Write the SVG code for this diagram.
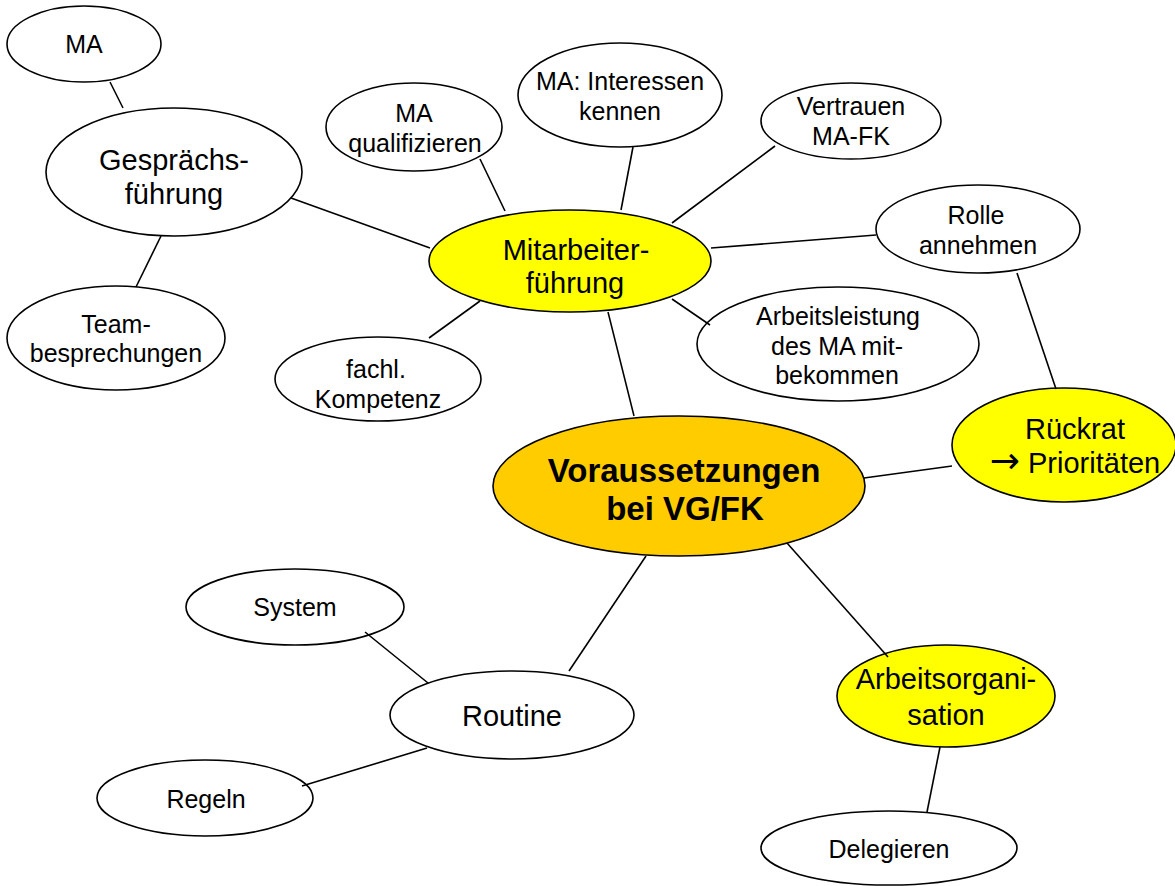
<svg xmlns="http://www.w3.org/2000/svg" width="1175" height="886" viewBox="0 0 1175 886">
<style>
  .n { fill: #FFFFFF; stroke: #000000; stroke-width: 1.6; }
  .y { fill: #FFFF00; stroke: #000000; stroke-width: 1.6; }
  .o { fill: #FFCC00; stroke: #000000; stroke-width: 1.6; }
  .c line { stroke: #000000; stroke-width: 1.6; }
  text { font-family: "Liberation Sans", Arial, Helvetica, sans-serif; fill: #000000; text-anchor: middle; }
  .s { font-size: 25px; }
  .l { font-size: 29px; }
  .b { font-size: 33px; font-weight: bold; }
  .arr { font-family: "DejaVu Sans", sans-serif; font-size: 36px; }
</style>
<rect x="0" y="0" width="1175" height="886" fill="#FFFFFF"/>

<g id="node-ma-top">
  <ellipse class="n" cx="84" cy="44" rx="77" ry="38"/>
  <text class="s" x="84" y="53">MA</text>
</g>
<g id="node-gespraechsfuehrung">
  <ellipse class="n" cx="174" cy="172" rx="128" ry="64"/>
  <text class="l" x="174" y="170">Gesprächs-</text>
  <text class="l" x="174" y="204">führung</text>
</g>
<g id="node-teambesprechungen">
  <ellipse class="n" cx="116" cy="338" rx="109" ry="52"/>
  <text class="s" x="116" y="333">Team-</text>
  <text class="s" x="116" y="362">besprechungen</text>
</g>
<g id="node-ma-qualifizieren">
  <ellipse class="n" cx="414" cy="127" rx="88" ry="44"/>
  <text class="s" x="414" y="122">MA</text>
  <text class="s" x="415" y="152">qualifizieren</text>
</g>
<g id="node-ma-interessen">
  <ellipse class="n" cx="620" cy="95" rx="102" ry="52"/>
  <text class="s" x="620" y="90">MA: Interessen</text>
  <text class="s" x="620" y="120">kennen</text>
</g>
<g id="node-vertrauen">
  <ellipse class="n" cx="851" cy="121" rx="90" ry="38"/>
  <text class="s" x="851" y="115">Vertrauen</text>
  <text class="s" x="851" y="145">MA-FK</text>
</g>
<g id="node-rolle">
  <ellipse class="n" cx="978" cy="229" rx="102" ry="44"/>
  <text class="s" x="976" y="224">Rolle</text>
  <text class="s" x="978" y="254">annehmen</text>
</g>
<g id="node-mitarbeiterfuehrung">
  <ellipse class="y" cx="570" cy="261" rx="141" ry="51"/>
  <text class="l" x="576" y="260">Mitarbeiter-</text>
  <text class="l" x="575" y="293">führung</text>
</g>
<g id="node-arbeitsleistung">
  <ellipse class="n" cx="838" cy="344" rx="141" ry="57"/>
  <text class="s" x="838" y="325">Arbeitsleistung</text>
  <text class="s" x="837" y="355">des MA mit-</text>
  <text class="s" x="837" y="384">bekommen</text>
</g>
<g id="node-fachl-kompetenz">
  <ellipse class="n" cx="378" cy="379" rx="103" ry="42"/>
  <text class="s" x="376" y="378">fachl.</text>
  <text class="s" x="378" y="408">Kompetenz</text>
</g>
<g id="node-voraussetzungen">
  <ellipse class="o" cx="679" cy="486" rx="186" ry="70"/>
  <text class="b" x="684" y="482">Voraussetzungen</text>
  <text class="b" x="685" y="520">bei VG/FK</text>
</g>
<g id="node-rueckrat">
  <ellipse class="y" cx="1064" cy="445" rx="112" ry="57"/>
  <text class="l" x="1075" y="439">Rückrat</text>
  <text class="l" x="1075" y="473"><tspan class="arr">→</tspan> Prioritäten</text>
</g>
<g id="node-system">
  <ellipse class="n" cx="295" cy="607" rx="109" ry="38"/>
  <text class="s" x="295" y="616">System</text>
</g>
<g id="node-routine">
  <ellipse class="n" cx="512" cy="715" rx="122" ry="44"/>
  <text class="l" x="512" y="726">Routine</text>
</g>
<g id="node-regeln">
  <ellipse class="n" cx="205" cy="798" rx="108" ry="38"/>
  <text class="s" x="206" y="808">Regeln</text>
</g>
<g id="node-arbeitsorganisation">
  <ellipse class="y" cx="946" cy="696" rx="109" ry="51"/>
  <text class="l" x="946" y="689">Arbeitsorgani-</text>
  <text class="l" x="946" y="725">sation</text>
</g>
<g id="node-delegieren">
  <ellipse class="n" cx="889" cy="848" rx="128" ry="37"/>
  <text class="s" x="889" y="858">Delegieren</text>
</g>

<g id="connectors" class="c">
  <line x1="110" y1="82" x2="123" y2="108"/>
  <line x1="161" y1="236" x2="136" y2="287"/>
  <line x1="291" y1="198" x2="430" y2="248"/>
  <line x1="480" y1="159" x2="505" y2="211"/>
  <line x1="633" y1="147" x2="621" y2="210"/>
  <line x1="775" y1="146" x2="672" y2="223"/>
  <line x1="711" y1="248" x2="876" y2="235"/>
  <line x1="672" y1="299" x2="710" y2="325"/>
  <line x1="480" y1="301" x2="429" y2="338"/>
  <line x1="608" y1="312" x2="634" y2="416"/>
  <line x1="864" y1="478" x2="952" y2="466"/>
  <line x1="1017" y1="273" x2="1056" y2="389"/>
  <line x1="787" y1="543" x2="888" y2="657"/>
  <line x1="646" y1="556" x2="569" y2="671"/>
  <line x1="940" y1="747" x2="927" y2="812"/>
  <line x1="365" y1="632" x2="428" y2="683"/>
  <line x1="427" y1="748" x2="302" y2="786"/>
</g>
</svg>
